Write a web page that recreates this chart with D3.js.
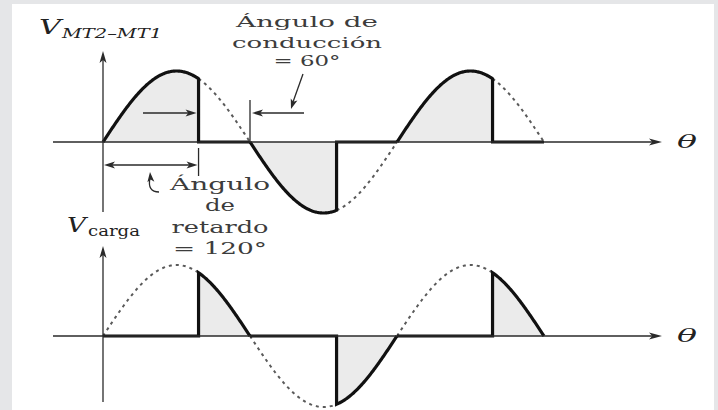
<!DOCTYPE html>
<html><head><meta charset="utf-8">
<script src="https://cdn.jsdelivr.net/npm/d3@7"></script>
<style>body{margin:0;background:#e5e6e8;overflow:hidden}</style>
</head><body><svg id="c" width="718" height="410"></svg>
<script>
// ---- data ----
const halfCycleStarts = [0, 180, 360];          // zero crossings (deg)
const halfCycleEnds   = [180, 360, 540];
const firingAngles    = [117, 286, 477];        // triac firing points (deg)
const labelTop        = ["V", "MT2–MT1"];
const labelBottom     = ["V", "carga"];
const conductionText  = ["Ángulo de", "conducción", "= 60°"];
const delayText       = ["Ángulo", "de", "retardo", "= 120°"];
const thetaLabel      = "θ";

// ---- layout ----
const svg = d3.select("#c");
svg.append("rect").attr("width",718).attr("height",410).attr("fill","#e5e6e8");
svg.append("rect").attr("x",12).attr("y",4).attr("width",702).attr("height",406).attr("fill","#ffffff");

const x = d3.scaleLinear().domain([0,540]).range([103,544]);
const yTop = d3.scaleLinear().domain([-1,1]).range([213,71]);
const yBot = d3.scaleLinear().domain([-1,1]).range([407,265]);
const s = d => Math.sin(d*Math.PI/180);
const deg = (a,b) => { const r = d3.range(a, b, 1); r.push(b); return r; };

const FILL = "#ebebeb", INK = "#111", AX = "#2a2a2a", DASH = "#5a5a5a";

function drawPanel(y, mode){
  const g = svg.append("g");
  const line = d3.line().x(d=>d[0]).y(d=>d[1]);
  halfCycleStarts.forEach((st,i)=>{
    const f = firingAngles[i], en = halfCycleEnds[i];
    const shadeRange = mode==="top" ? [st,f] : [f,en];
    const dashRange  = mode==="top" ? [f,en] : [st,f];
    g.append("path")
      .attr("d", d3.area().x(d=>x(d)).y0(y(0)).y1(d=>y(s(d)))(deg(shadeRange[0],shadeRange[1])))
      .attr("fill", FILL);
    g.append("path")
      .attr("d", line(deg(dashRange[0],dashRange[1]).map(d=>[x(d),y(s(d))])))
      .attr("fill","none").attr("stroke",DASH).attr("stroke-width",2).attr("stroke-dasharray","3,4");
    let pts;
    if(mode==="top"){
      pts = deg(st,f).map(d=>[x(d),y(s(d))]);
      pts.push([x(f),y(0)],[x(en),y(0)]);
    } else {
      pts = [[x(st),y(0)],[x(f),y(0)]].concat(deg(f,en).map(d=>[x(d),y(s(d))]));
    }
    g.append("path").attr("d", line(pts))
      .attr("fill","none").attr("stroke",INK).attr("stroke-width",3.2).attr("stroke-linejoin","miter");
  });
}

function arrowHead(tx,ty,angle,len=11,hw=3.5){
  const a = angle*Math.PI/180;
  const bx = tx - len*Math.cos(a), by = ty - len*Math.sin(a);
  const px = -Math.sin(a)*hw, py = Math.cos(a)*hw;
  svg.append("path")
    .attr("d",`M${tx},${ty}L${bx+px},${by+py}L${bx+len*0.25*Math.cos(a)},${by+len*0.25*Math.sin(a)}L${bx-px},${by-py}Z`)
    .attr("fill",AX);
}
function seg(x1,y1,x2,y2,w=1.3,c=AX){
  svg.append("line").attr("x1",x1).attr("y1",y1).attr("x2",x2).attr("y2",y2)
    .attr("stroke",c).attr("stroke-width",w);
}

drawPanel(yTop,"top");
drawPanel(yBot,"bottom");

// axes
seg(53,yTop(0),655,yTop(0)); arrowHead(662,yTop(0),0,13,3.5);
seg(53,yBot(0),655,yBot(0)); arrowHead(662,yBot(0),0,13,3.5);
seg(x(0),212,x(0),60); arrowHead(x(0),51,-90,12,3.5);
seg(x(0),402,x(0),254); arrowHead(x(0),246,-90,12,3.5);

// conduction-angle annotation
seg(143,113,x(firingAngles[0])-8,113); arrowHead(x(firingAngles[0])-2,113,0);
seg(x(180),100,x(180),yTop(0));
seg(304,113,x(180)+8,113); arrowHead(x(180)+2,113,180);
seg(303,74,293,102); arrowHead(291,109,108,10,3.5);

// delay-angle annotation
seg(x(firingAngles[0]),148,x(firingAngles[0]),176);
seg(x(0)+6,165,x(firingAngles[0])-6,165);
arrowHead(x(0)+1,165,180); arrowHead(x(firingAngles[0])-1,165,0);
svg.append("path").attr("d","M159,192 C151,192 148,187 150,178")
  .attr("fill","none").attr("stroke",AX).attr("stroke-width",1.3);
arrowHead(150,172,-95,10,3.5);

// texts
function txt(t,xx,yy,size,len,opts={}){
  const e = svg.append("text").attr("x",xx).attr("y",yy).text(t)
    .attr("font-family","'DejaVu Serif', 'Liberation Serif', serif")
    .attr("font-size",size).attr("fill",opts.fill||"#3c3c3c")
    .attr("text-anchor",opts.anchor||"start")
    .attr("textLength",len).attr("lengthAdjust","spacingAndGlyphs");
  if(opts.italic) e.attr("font-style","italic");
  return e;
}
const cBase=[27,48,66], cLen=[142,150,67];
conductionText.forEach((t,i)=>txt(t,307,cBase[i],15,cLen[i],{anchor:"middle"}));
const dBase=[190,211,233,254], dLen=[100,30,97,94];
delayText.forEach((t,i)=>txt(t,220,dBase[i],16,dLen[i],{anchor:"middle"}));

txt(labelTop[0],39,34,21,22,{italic:true,fill:"#222"});
txt(labelTop[1],62,38,12,100,{italic:true,fill:"#222"});
txt(labelBottom[0],67,232,21,19,{italic:true,fill:"#222"});
txt(labelBottom[1],88,236,14,52,{fill:"#222"});
txt(thetaLabel,677,yTop(0)+6,19,20,{italic:true,fill:"#222"});
txt(thetaLabel,677,yBot(0)+6,19,20,{italic:true,fill:"#222"});
</script></body></html>
